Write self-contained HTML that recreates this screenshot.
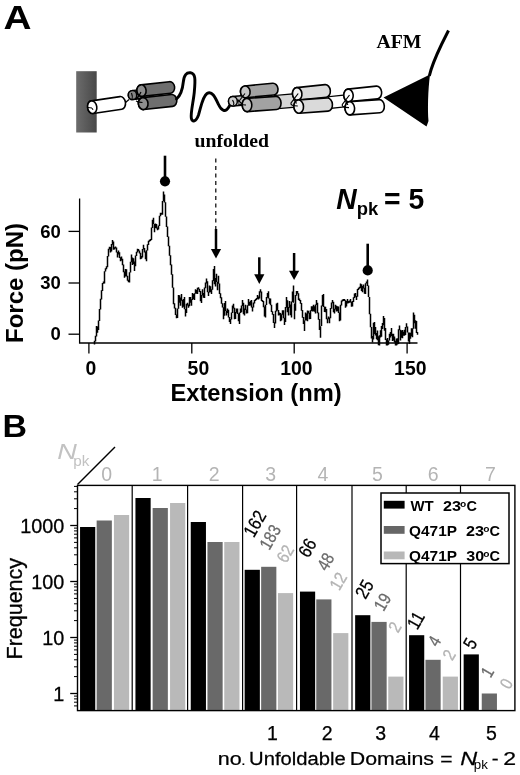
<!DOCTYPE html>
<html lang="en"><head><meta charset="utf-8"><title>Figure</title>
<style>html,body{margin:0;padding:0;background:#fff}svg{display:block}</style></head>
<body>
<svg width="520" height="775" viewBox="0 0 520 775">
<defs><linearGradient id="wall" x1="0" y1="0" x2="1" y2="0"><stop offset="0" stop-color="#6c6c6c"/><stop offset="1" stop-color="#484848"/></linearGradient></defs>
<rect x="0" y="0" width="520" height="775" fill="#fff"/>
<text x="3.6" y="29" font-family='"Liberation Sans", sans-serif' font-weight="bold" font-size="33" textLength="28" lengthAdjust="spacingAndGlyphs">A</text>
<text x="2.5" y="437" font-family='"Liberation Sans", sans-serif' font-weight="bold" font-size="32" textLength="24.5" lengthAdjust="spacingAndGlyphs">B</text>
<g id="diagram">
<rect x="76.2" y="71.2" width="20.5" height="61.3" fill="url(#wall)"/>
<g transform="translate(92.2,107.2) rotate(-8.5)"><path d="M0,-6.4 H29 A4.6,6.4 0 0 1 29,6.4 H0 A4.6,6.4 0 0 1 0,-6.4 Z" fill="#fff" stroke="#000" stroke-width="1.6"/><ellipse cx="0" cy="0" rx="4.6" ry="6.4" fill="#fff" stroke="#000" stroke-width="1.6"/></g>
<path d="M88,107.5 l4,0.5 l1,2" fill="none" stroke="#000" stroke-width="1"/>
<path d="M125.5,102.5 L129,99.5" fill="none" stroke="#000" stroke-width="1.3"/>
<g transform="translate(132.5,95.1) rotate(-6.3)"><path d="M0,-4.5 H7 A4.2,4.5 0 0 1 7,4.5 H0 A4.2,4.5 0 0 1 0,-4.5 Z" fill="#6e6e6e" stroke="#000" stroke-width="1.5"/><ellipse cx="0" cy="0" rx="4.2" ry="4.5" fill="#868686" stroke="#000" stroke-width="1.5"/></g>
<g transform="translate(141.5,90.6) rotate(-6.3)"><path d="M0,-5.8 H28.7 A4.6,5.8 0 0 1 28.7,5.8 H0 A4.6,5.8 0 0 1 0,-5.8 Z" fill="#6e6e6e" stroke="#000" stroke-width="1.6"/><ellipse cx="0" cy="0" rx="4.6" ry="5.8" fill="#8e8e8e" stroke="#000" stroke-width="1.6"/></g>
<g transform="translate(143.2,103.6) rotate(-6.3)"><path d="M0,-6.0 H29 A4.8,6.0 0 0 1 29,6.0 H0 A4.8,6.0 0 0 1 0,-6.0 Z" fill="#6e6e6e" stroke="#000" stroke-width="1.6"/><ellipse cx="0" cy="0" rx="4.8" ry="6.0" fill="#8e8e8e" stroke="#000" stroke-width="1.6"/></g>
<path d="M131.5,93 q1.5,4 0.5,6 M135.5,99.5 q3,-2 5.5,-7.5 M136,101 q3,1.5 6.5,1.5 M136.5,97 l3.5,3" fill="none" stroke="#000" stroke-width="1.1"/>
<path d="M176.5,99 C180.5,95.5 182.5,90 183.3,82 C184,75 186.5,72.3 190.5,72.8 C195.5,73.5 195.5,79 194.3,92 C193.5,101 190.5,113 191.3,118 C192,122.5 196,122 198.5,115 C201,107 202.5,96.5 207,93.5 C212,90.5 215,97 218.5,104.5 C221.5,111 225.5,112.5 228.5,107.5 C230,105 231,103 232.5,101.8" fill="none" stroke="#000" stroke-width="2.9" stroke-linecap="round"/>
<g transform="translate(232.9,101.2) rotate(-5)"><path d="M0,-4.8 H8.5 A4.4,4.8 0 0 1 8.5,4.8 H0 A4.4,4.8 0 0 1 0,-4.8 Z" fill="#bcbcbc" stroke="#000" stroke-width="1.5"/><ellipse cx="0" cy="0" rx="4.4" ry="4.8" fill="#cecece" stroke="#000" stroke-width="1.5"/></g>
<g transform="translate(275,102.2) rotate(-5)"><rect x="0" y="-6.7" width="23" height="13.4" fill="#d6d6d6" stroke="#000" stroke-width="1.3"/></g>
<g transform="translate(245.3,91.8) rotate(-5.5)"><path d="M0,-5.9 H28 A4.8,5.9 0 0 1 28,5.9 H0 A4.8,5.9 0 0 1 0,-5.9 Z" fill="#a2a2a2" stroke="#000" stroke-width="1.6"/><ellipse cx="0" cy="0" rx="4.8" ry="5.9" fill="#c6c6c6" stroke="#000" stroke-width="1.6"/></g>
<g transform="translate(247,105) rotate(-4)"><path d="M0,-6.6 H29.3 A4.8,6.6 0 0 1 29.3,6.6 H0 A4.8,6.6 0 0 1 0,-6.6 Z" fill="#a2a2a2" stroke="#000" stroke-width="1.6"/><ellipse cx="0" cy="0" rx="4.8" ry="6.6" fill="#c6c6c6" stroke="#000" stroke-width="1.6"/></g>
<path d="M232.5,100 q2,3 1,5 M238,102.5 q3,-4 7,-9 M238,104 q4,1 8,1 M237.5,99.5 l4.5,4.5" fill="none" stroke="#000" stroke-width="1.1"/>
<g transform="translate(329,102.6) rotate(-6)"><rect x="0" y="-5.9" width="21" height="11.8" fill="#fff" stroke="#000" stroke-width="1.3"/></g>
<g transform="translate(297.2,93.9) rotate(-6)"><path d="M0,-6.3 H28.6 A4.7,6.3 0 0 1 28.6,6.3 H0 A4.7,6.3 0 0 1 0,-6.3 Z" fill="#dadada" stroke="#000" stroke-width="1.6"/><ellipse cx="0" cy="0" rx="4.7" ry="6.3" fill="#f2f2f2" stroke="#000" stroke-width="1.6"/></g>
<g transform="translate(298.7,106.6) rotate(-4)"><path d="M0,-6.6 H29 A4.8,6.6 0 0 1 29,6.6 H0 A4.8,6.6 0 0 1 0,-6.6 Z" fill="#dadada" stroke="#000" stroke-width="1.6"/><ellipse cx="0" cy="0" rx="4.8" ry="6.6" fill="#f2f2f2" stroke="#000" stroke-width="1.6"/></g>
<path d="M298.2,93.5 L291,103 Q290,106 297.8,106 M293,99.5 q3,1.5 3.5,4" fill="none" stroke="#000" stroke-width="1.2"/>
<g transform="translate(348.5,95.4) rotate(-6)"><path d="M0,-6.3 H28.6 A4.7,6.3 0 0 1 28.6,6.3 H0 A4.7,6.3 0 0 1 0,-6.3 Z" fill="#fff" stroke="#000" stroke-width="1.6"/><ellipse cx="0" cy="0" rx="4.7" ry="6.3" fill="#fff" stroke="#000" stroke-width="1.6"/></g>
<g transform="translate(349.8,108.3) rotate(-4)"><path d="M0,-6.6 H29.8 A4.8,6.6 0 0 1 29.8,6.6 H0 A4.8,6.6 0 0 1 0,-6.6 Z" fill="#fff" stroke="#000" stroke-width="1.6"/><ellipse cx="0" cy="0" rx="4.8" ry="6.6" fill="#fff" stroke="#000" stroke-width="1.6"/></g>
<path d="M349.5,95 L342.3,104.5 Q341.3,107.5 349,107.6 M344.3,101 q3,1.5 3.5,4" fill="none" stroke="#000" stroke-width="1.2"/>
<path d="M383.5,97.5 L430,74.5 C428,90 427.5,110 428.5,121 L426.5,126.5 Z" fill="#000"/>
<path d="M429.3,76 C431.5,66 436,56 441.5,44.5 L448.5,30.5" fill="none" stroke="#000" stroke-width="3" stroke-linecap="butt"/>
<text x="376.5" y="47.5" font-family='"Liberation Serif", serif' font-weight="bold" font-size="19.5" textLength="45" lengthAdjust="spacingAndGlyphs">AFM</text>
<text x="194.5" y="147" font-family='"Liberation Serif", serif' font-weight="bold" font-size="19.5" textLength="74.5" lengthAdjust="spacingAndGlyphs">unfolded</text>
</g>
<g id="force">
<path d="M79.6,198.5 V343 H417.5" fill="none" stroke="#000" stroke-width="1.3"/>
<path d="M68.5,231.4 H79.6" stroke="#000" stroke-width="1.3"/>
<path d="M68.5,283 H79.6" stroke="#000" stroke-width="1.3"/>
<path d="M68.5,334.2 H79.6" stroke="#000" stroke-width="1.3"/>
<path d="M88.9,343 V353.5" stroke="#000" stroke-width="1.3"/>
<path d="M191.8,343 V353.5" stroke="#000" stroke-width="1.3"/>
<path d="M294.2,343 V353.5" stroke="#000" stroke-width="1.3"/>
<path d="M407.1,343 V353.5" stroke="#000" stroke-width="1.3"/>
<text x="60.8" y="237.5" text-anchor="end" font-family='"Liberation Sans", sans-serif' font-weight="bold" font-size="18.5">60</text>
<text x="60.8" y="289.1" text-anchor="end" font-family='"Liberation Sans", sans-serif' font-weight="bold" font-size="18.5">30</text>
<text x="60.8" y="340.3" text-anchor="end" font-family='"Liberation Sans", sans-serif' font-weight="bold" font-size="18.5">0</text>
<text x="90.8" y="374.8" text-anchor="middle" font-family='"Liberation Sans", sans-serif' font-weight="bold" font-size="19.4">0</text>
<text x="198.4" y="374.8" text-anchor="middle" font-family='"Liberation Sans", sans-serif' font-weight="bold" font-size="19.4">50</text>
<text x="296.4" y="374.8" text-anchor="middle" font-family='"Liberation Sans", sans-serif' font-weight="bold" font-size="19.4">100</text>
<text x="410.3" y="374.8" text-anchor="middle" font-family='"Liberation Sans", sans-serif' font-weight="bold" font-size="19.4">150</text>
<text x="0" y="0" transform="translate(22.6,343) rotate(-90)" font-family='"Liberation Sans", sans-serif' font-weight="bold" font-size="24">Force (pN)</text>
<text x="170.5" y="401.4" font-family='"Liberation Sans", sans-serif' font-weight="bold" font-size="23.7">Extension (nm)</text>
<path d="M94.5,340.7V344.4M95.5,335.7V341.4M96.5,326.0V336.4M97.5,326.4V332.8M98.5,320.4V330.0M99.5,309.1V321.1M100.5,298.8V309.4M101.5,290.3V299.4M102.5,283.0V290.9M103.5,281.6V283.8M104.5,271.3V283.5M105.5,268.3V271.6M106.5,266.3V269.2M107.5,256.1V267.2M108.5,248.7V256.6M109.5,246.7V249.4M110.5,246.9V252.6M111.5,243.9V251.5M112.5,240.0V244.7M113.5,241.4V249.7M114.5,247.3V249.4M115.5,246.5V248.5M116.5,247.6V252.6M117.5,251.9V257.4M118.5,250.6V254.5M119.5,252.2V257.9M120.5,257.2V261.3M121.5,256.4V260.5M122.5,258.8V265.3M123.5,264.6V272.2M124.5,271.6V277.7M125.5,269.0V276.5M126.5,269.3V276.5M127.5,275.7V280.7M128.5,279.8V282.3M129.5,272.2V282.5M130.5,261.8V272.5M131.5,254.5V262.3M132.5,257.5V265.1M133.5,258.3V264.1M134.5,261.5V270.9M135.5,255.4V266.3M136.5,251.7V255.9M137.5,248.7V252.5M138.5,249.1V251.3M139.5,250.4V253.5M140.5,252.7V259.3M141.5,256.1V258.8M142.5,249.0V257.4M143.5,244.8V249.4M144.5,248.0V252.4M145.5,251.5V259.3M146.5,250.2V261.3M147.5,244.3V250.6M148.5,240.7V245.1M149.5,239.7V241.7M150.5,239.0V241.0M151.5,227.5V240.1M152.5,219.8V227.9M153.5,217.7V224.1M154.5,223.9V232.3M155.5,223.5V228.1M156.5,224.1V228.4M157.5,227.6V230.3M158.5,225.4V229.6M159.5,215.7V225.9M160.5,212.8V216.2M161.5,212.7V214.7M162.5,201.1V214.8M163.5,191.6V201.3M164.5,194.4V202.4M165.5,202.2V216.8M166.5,216.4V227.1M167.5,226.6V237.0M168.5,236.5V246.3M169.5,245.8V255.7M170.5,255.2V265.2M171.5,264.6V274.8M172.5,274.3V287.7M173.5,287.6V304.2M174.5,303.3V308.5M175.5,307.8V315.1M176.5,314.4V318.3M177.5,308.4V317.9M178.5,295.1V308.8M179.5,295.3V302.7M180.5,297.5V305.8M181.5,294.1V300.7M182.5,300.1V307.7M183.5,298.9V306.7M184.5,297.0V309.3M185.5,309.0V316.4M186.5,303.7V312.9M187.5,302.8V305.4M188.5,304.6V307.7M189.5,297.0V306.2M190.5,297.1V302.8M191.5,299.3V305.8M192.5,293.1V299.9M193.5,293.9V299.0M194.5,293.2V299.9M195.5,289.3V293.8M196.5,290.0V293.8M197.5,287.7V294.1M198.5,287.3V289.5M199.5,288.7V291.9M200.5,291.0V301.3M201.5,295.0V302.9M202.5,289.3V295.6M203.5,293.0V297.8M204.5,287.6V298.0M205.5,282.5V288.2M206.5,278.6V283.4M207.5,281.3V292.2M208.5,291.7V296.1M209.5,285.4V292.5M210.5,286.2V292.3M211.5,289.2V294.1M212.5,280.3V289.7M213.5,268.9V280.9M214.5,266.1V284.3M215.5,277.9V286.4M216.5,273.8V282.0M217.5,281.7V290.3M218.5,275.7V283.7M219.5,283.6V294.0M220.5,293.3V298.2M221.5,297.3V303.8M222.5,303.2V307.5M223.5,307.3V319.3M224.5,303.1V315.8M225.5,300.9V311.0M226.5,310.7V315.4M227.5,308.6V313.1M228.5,309.8V317.5M229.5,316.9V321.9M230.5,319.1V324.1M231.5,312.5V319.6M232.5,305.5V313.1M233.5,303.8V308.4M234.5,307.7V319.3M235.5,312.1V319.1M236.5,308.6V312.7M237.5,308.6V314.1M238.5,313.4V321.3M239.5,312.6V324.1M240.5,308.6V313.0M241.5,305.6V312.3M242.5,299.9V306.0M243.5,302.8V314.3M244.5,308.4V315.4M245.5,304.8V309.9M246.5,309.4V313.5M247.5,305.3V313.2M248.5,298.9V305.7M249.5,302.0V305.8M250.5,300.8V305.6M251.5,299.9V307.6M252.5,306.8V311.6M253.5,302.5V307.6M254.5,300.0V303.4M255.5,298.9V300.9M256.5,298.1V300.1M257.5,295.1V298.9M258.5,296.5V299.4M259.5,291.3V298.4M260.5,289.3V292.4M261.5,291.6V300.9M262.5,299.9V301.9M263.5,301.0V307.2M264.5,306.5V316.4M265.5,304.7V317.4M266.5,296.9V305.0M267.5,292.9V297.7M268.5,291.2V298.5M269.5,298.3V303.8M270.5,298.6V305.3M271.5,304.7V312.1M272.5,311.2V314.7M273.5,313.9V322.9M274.5,322.3V328.0M275.5,310.8V323.6M276.5,303.6V311.6M277.5,302.8V310.5M278.5,309.9V315.4M279.5,312.5V315.2M280.5,312.9V321.2M281.5,314.2V320.5M282.5,310.3V314.8M283.5,310.2V318.2M284.5,317.8V325.1M285.5,307.0V322.0M286.5,297.0V307.7M287.5,300.2V312.3M288.5,307.1V315.4M289.5,300.9V307.7M290.5,304.5V315.3M291.5,301.6V317.4M292.5,291.6V301.9M293.5,285.4V302.8M294.5,303.5V319.3M295.5,295.1V310.8M296.5,290.9V295.8M297.5,291.0V293.8M298.5,293.2V299.9M299.5,298.4V301.0M300.5,300.1V303.7M301.5,302.9V310.7M302.5,310.0V317.7M303.5,317.1V324.1M304.5,320.5V330.9M305.5,312.5V320.5M306.5,313.5V320.4M307.5,310.6V321.2M308.5,310.7V313.4M309.5,312.7V319.3M310.5,310.3V318.9M311.5,306.3V311.0M312.5,306.2V311.6M313.5,304.8V311.3M314.5,306.2V311.8M315.5,304.4V313.5M316.5,299.9V305.1M317.5,302.8V313.3M318.5,312.6V319.8M319.5,319.1V330.0M320.5,326.3V337.7M321.5,305.5V326.0M322.5,295.0V305.9M323.5,294.1V307.0M324.5,306.5V312.1M325.5,306.7V312.2M326.5,309.1V319.2M327.5,318.5V323.2M328.5,316.4V319.2M329.5,317.5V323.2M330.5,308.1V318.3M331.5,302.5V308.8M332.5,299.9V303.3M333.5,301.7V312.2M334.5,308.8V313.5M335.5,304.8V309.4M336.5,305.7V311.6M337.5,306.2V311.3M338.5,306.4V312.9M339.5,312.5V321.2M340.5,304.8V320.4M341.5,300.4V305.6M342.5,299.6V301.6M343.5,299.0V301.0M344.5,298.9V301.1M345.5,300.2V307.7M346.5,300.9V306.5M347.5,298.9V303.4M348.5,300.9V303.3M349.5,300.6V302.8M350.5,298.9V302.4M351.5,301.7V306.7M352.5,301.1V306.4M353.5,297.3V302.0M354.5,293.4V298.1M355.5,293.1V296.8M356.5,296.0V299.9M357.5,289.1V296.7M358.5,287.8V290.1M359.5,286.8V288.8M360.5,283.5V287.9M361.5,284.2V290.9M362.5,286.1V292.2M363.5,284.4V288.4M364.5,287.8V293.7M365.5,283.2V294.1M366.5,281.5V283.5M367.5,279.6V285.9M368.5,285.5V297.0M369.5,296.9V314.2M370.5,313.8V327.2M371.5,327.0V338.6M372.5,335.9V342.5M373.5,322.8V339.4M374.5,322.1V334.0M375.5,327.0V335.5M376.5,332.9V339.3M377.5,330.6V340.2M378.5,336.3V345.2M379.5,335.3V345.4M380.5,330.3V337.6M381.5,326.1V336.7M382.5,322.9V329.0M383.5,316.0V325.3M384.5,318.1V330.8M385.5,328.0V339.9M386.5,339.3V345.5M387.5,337.9V345.4M388.5,340.6V344.8M389.5,333.8V340.5M390.5,332.0V337.4M391.5,328.0V336.1M392.5,333.8V341.0M393.5,333.7V340.6M394.5,336.6V342.5M395.5,340.8V345.5M396.5,338.5V345.4M397.5,338.3V344.4M398.5,329.2V344.1M399.5,325.5V330.3M400.5,329.7V340.6M401.5,330.6V337.8M402.5,329.9V338.2M403.5,331.8V335.7M404.5,329.8V335.7M405.5,326.9V334.9M406.5,323.2V327.4M407.5,326.5V332.4M408.5,332.6V341.6M409.5,332.4V344.1M410.5,332.7V338.8M411.5,328.2V336.3M412.5,328.2V337.3M413.5,312.5V328.8M414.5,314.7V323.2M415.5,320.2V328.7M416.5,320.9V332.9M417.5,332.1V334.8" fill="none" stroke="#000" stroke-width="1.5" stroke-linecap="butt"/>
<path d="M165,155.7 V181.3" stroke="#000" stroke-width="2.6"/><circle cx="165" cy="181.3" r="5.1" fill="#000"/>
<path d="M367.7,243.7 V270.4" stroke="#000" stroke-width="2.6"/><circle cx="367.7" cy="270.4" r="5.1" fill="#000"/>
<path d="M215.8,158.5 V229" stroke="#000" stroke-width="1.2" stroke-dasharray="4,3.5"/>
<path d="M216,229 V251" stroke="#000" stroke-width="2.5"/><path d="M210.9,249 L221.1,249 L216,258.5 Z" fill="#000"/>
<path d="M259.3,257.3 V276.3" stroke="#000" stroke-width="2.5"/><path d="M254.20000000000002,274.3 L264.40000000000003,274.3 L259.3,284 Z" fill="#000"/>
<path d="M294.1,253 V272.8" stroke="#000" stroke-width="2.5"/><path d="M289.0,270.8 L299.20000000000005,270.8 L294.1,280.1 Z" fill="#000"/>
<text transform="translate(336.3,208.8) scale(0.97,1)" font-family='"Liberation Sans", sans-serif' font-weight="bold" font-size="29.2"><tspan font-style="italic">N</tspan><tspan font-size="19" dy="6.3">pk</tspan></text>
<text transform="translate(384,208.8) scale(0.97,1)" font-family='"Liberation Sans", sans-serif' font-weight="bold" font-size="29.2">= 5</text>
</g>
<g id="bars">
<rect x="80.05" y="527.0" width="15.2" height="183.6" fill="#000"/>
<rect x="96.65" y="520.5" width="15.2" height="190.1" fill="#696969"/>
<rect x="113.95" y="515.0" width="15.2" height="195.6" fill="#b9b9b9"/>
<rect x="135.45" y="498.0" width="15.2" height="212.6" fill="#000"/>
<rect x="152.65" y="508.0" width="15.2" height="202.6" fill="#696969"/>
<rect x="170.05" y="503.0" width="15.2" height="207.6" fill="#b9b9b9"/>
<rect x="190.75" y="522.0" width="15.2" height="188.6" fill="#000"/>
<rect x="207.45" y="542.0" width="15.2" height="168.6" fill="#696969"/>
<rect x="224.25" y="542.0" width="15.2" height="168.6" fill="#b9b9b9"/>
<rect x="244.65" y="569.8" width="15.2" height="140.8" fill="#000"/>
<rect x="261.15" y="566.8" width="15.2" height="143.8" fill="#696969"/>
<rect x="277.95" y="593.1" width="15.2" height="117.5" fill="#b9b9b9"/>
<rect x="299.95" y="591.6" width="15.2" height="119.0" fill="#000"/>
<rect x="316.25" y="599.4" width="15.2" height="111.2" fill="#696969"/>
<rect x="333.15" y="633.1" width="15.2" height="77.5" fill="#b9b9b9"/>
<rect x="355.15" y="615.2" width="15.2" height="95.4" fill="#000"/>
<rect x="371.45" y="621.9" width="15.2" height="88.7" fill="#696969"/>
<rect x="388.25" y="676.6" width="15.2" height="34.0" fill="#b9b9b9"/>
<rect x="409.05" y="635.2" width="15.2" height="75.4" fill="#000"/>
<rect x="425.45" y="659.8" width="15.2" height="50.8" fill="#696969"/>
<rect x="442.75" y="676.6" width="15.2" height="34.0" fill="#b9b9b9"/>
<rect x="463.65" y="654.4" width="15.2" height="56.2" fill="#000"/>
<rect x="481.75" y="693.5" width="15.2" height="17.1" fill="#696969"/>
<path d="M132.2,485.4 V710.6" stroke="#000" stroke-width="1.2"/>
<path d="M187.6,485.4 V710.6" stroke="#000" stroke-width="1.2"/>
<path d="M242.6,485.4 V710.6" stroke="#000" stroke-width="1.2"/>
<path d="M296.6,485.4 V710.6" stroke="#000" stroke-width="1.2"/>
<path d="M352,485.4 V710.6" stroke="#000" stroke-width="1.2"/>
<path d="M406.2,485.4 V710.6" stroke="#000" stroke-width="1.2"/>
<path d="M460.5,485.4 V710.6" stroke="#000" stroke-width="1.2"/>
<rect x="77.5" y="485.4" width="437.4" height="225.20000000000005" fill="none" stroke="#000" stroke-width="1.4"/>
<path d="M70.2,693.5 H77.5" stroke="#000" stroke-width="1.3"/>
<path d="M70.2,637.5 H77.5" stroke="#000" stroke-width="1.3"/>
<path d="M70.2,581.5 H77.5" stroke="#000" stroke-width="1.3"/>
<path d="M70.2,525.5 H77.5" stroke="#000" stroke-width="1.3"/>
<path d="M74,705.9 H77.5" stroke="#000" stroke-width="1"/>
<path d="M74,702.2 H77.5" stroke="#000" stroke-width="1"/>
<path d="M74,698.9 H77.5" stroke="#000" stroke-width="1"/>
<path d="M74,696.1 H77.5" stroke="#000" stroke-width="1"/>
<path d="M74,676.6 H77.5" stroke="#000" stroke-width="1"/>
<path d="M74,666.8 H77.5" stroke="#000" stroke-width="1"/>
<path d="M74,659.8 H77.5" stroke="#000" stroke-width="1"/>
<path d="M74,654.4 H77.5" stroke="#000" stroke-width="1"/>
<path d="M74,649.9 H77.5" stroke="#000" stroke-width="1"/>
<path d="M74,646.2 H77.5" stroke="#000" stroke-width="1"/>
<path d="M74,642.9 H77.5" stroke="#000" stroke-width="1"/>
<path d="M74,640.1 H77.5" stroke="#000" stroke-width="1"/>
<path d="M74,620.6 H77.5" stroke="#000" stroke-width="1"/>
<path d="M74,610.8 H77.5" stroke="#000" stroke-width="1"/>
<path d="M74,603.8 H77.5" stroke="#000" stroke-width="1"/>
<path d="M74,598.4 H77.5" stroke="#000" stroke-width="1"/>
<path d="M74,593.9 H77.5" stroke="#000" stroke-width="1"/>
<path d="M74,590.2 H77.5" stroke="#000" stroke-width="1"/>
<path d="M74,586.9 H77.5" stroke="#000" stroke-width="1"/>
<path d="M74,584.1 H77.5" stroke="#000" stroke-width="1"/>
<path d="M74,564.6 H77.5" stroke="#000" stroke-width="1"/>
<path d="M74,554.8 H77.5" stroke="#000" stroke-width="1"/>
<path d="M74,547.8 H77.5" stroke="#000" stroke-width="1"/>
<path d="M74,542.4 H77.5" stroke="#000" stroke-width="1"/>
<path d="M74,537.9 H77.5" stroke="#000" stroke-width="1"/>
<path d="M74,534.2 H77.5" stroke="#000" stroke-width="1"/>
<path d="M74,530.9 H77.5" stroke="#000" stroke-width="1"/>
<path d="M74,528.1 H77.5" stroke="#000" stroke-width="1"/>
<path d="M74,508.6 H77.5" stroke="#000" stroke-width="1"/>
<path d="M74,498.8 H77.5" stroke="#000" stroke-width="1"/>
<path d="M74,491.8 H77.5" stroke="#000" stroke-width="1"/>
<path d="M74,486.4 H77.5" stroke="#000" stroke-width="1"/>
<text x="64.3" y="532.8" text-anchor="end" font-family='"Liberation Sans", sans-serif' font-size="19.8" stroke="#000" stroke-width="0.3">1000</text>
<text x="64.3" y="588.8" text-anchor="end" font-family='"Liberation Sans", sans-serif' font-size="19.8" stroke="#000" stroke-width="0.3">100</text>
<text x="64.3" y="644.8" text-anchor="end" font-family='"Liberation Sans", sans-serif' font-size="19.8" stroke="#000" stroke-width="0.3">10</text>
<text x="64.3" y="700.8" text-anchor="end" font-family='"Liberation Sans", sans-serif' font-size="19.8" stroke="#000" stroke-width="0.3">1</text>
<text transform="translate(22.3,659.5) rotate(-90)" font-family='"Liberation Sans", sans-serif' font-size="21.5" stroke="#000" stroke-width="0.3">Frequency</text>
<path d="M77.5,484.5 L115,447" stroke="#000" stroke-width="1.5"/>
<text x="57.3" y="458.6" font-family='"Liberation Sans", sans-serif' font-size="22.5" font-style="italic" fill="#c2c2c2" textLength="19.6" lengthAdjust="spacingAndGlyphs">N</text>
<text x="73.3" y="465.7" font-family='"Liberation Sans", sans-serif' font-size="15.3" fill="#c2c2c2">pk</text>
<text x="106.7" y="481.2" text-anchor="middle" font-family='"Liberation Sans", sans-serif' font-size="19.5" fill="#b4b4b4">0</text>
<text x="157.3" y="481.2" text-anchor="middle" font-family='"Liberation Sans", sans-serif' font-size="19.5" fill="#b4b4b4">1</text>
<text x="214.3" y="481.2" text-anchor="middle" font-family='"Liberation Sans", sans-serif' font-size="19.5" fill="#b4b4b4">2</text>
<text x="270.6" y="481.2" text-anchor="middle" font-family='"Liberation Sans", sans-serif' font-size="19.5" fill="#b4b4b4">3</text>
<text x="322.9" y="481.2" text-anchor="middle" font-family='"Liberation Sans", sans-serif' font-size="19.5" fill="#b4b4b4">4</text>
<text x="377.5" y="481.2" text-anchor="middle" font-family='"Liberation Sans", sans-serif' font-size="19.5" fill="#b4b4b4">5</text>
<text x="433.2" y="481.2" text-anchor="middle" font-family='"Liberation Sans", sans-serif' font-size="19.5" fill="#b4b4b4">6</text>
<text x="490.5" y="481.2" text-anchor="middle" font-family='"Liberation Sans", sans-serif' font-size="19.5" fill="#b4b4b4">7</text>
<text x="272.5" y="739.7" text-anchor="middle" font-family='"Liberation Sans", sans-serif' font-size="19.5" stroke="#000" stroke-width="0.25">1</text>
<text x="327.3" y="739.7" text-anchor="middle" font-family='"Liberation Sans", sans-serif' font-size="19.5" stroke="#000" stroke-width="0.25">2</text>
<text x="380.8" y="739.7" text-anchor="middle" font-family='"Liberation Sans", sans-serif' font-size="19.5" stroke="#000" stroke-width="0.25">3</text>
<text x="434.5" y="739.7" text-anchor="middle" font-family='"Liberation Sans", sans-serif' font-size="19.5" stroke="#000" stroke-width="0.25">4</text>
<text x="491.5" y="739.7" text-anchor="middle" font-family='"Liberation Sans", sans-serif' font-size="19.5" stroke="#000" stroke-width="0.25">5</text>
<text transform="translate(217.80,764.8) scale(1.1312,1)" font-family='"Liberation Sans", sans-serif' font-size="19" stroke="#000" stroke-width="0.25">no</text>
<text transform="translate(240.69,764.8) scale(1.2632,1)" font-family='"Liberation Sans", sans-serif' font-size="15">.</text>
<text transform="translate(249.08,764.8) scale(1.0639,1)" font-family='"Liberation Sans", sans-serif' font-size="19" stroke="#000" stroke-width="0.25">Unfoldable</text>
<text transform="translate(349.79,764.8) scale(1.1227,1)" font-family='"Liberation Sans", sans-serif' font-size="19" stroke="#000" stroke-width="0.25">Domains</text>
<text transform="translate(440.25,764.8) scale(1.1069,1)" font-family='"Liberation Sans", sans-serif' font-size="19" stroke="#000" stroke-width="0.25">=</text>
<text transform="translate(460.30,764.8) scale(1.2344,1)" font-family='"Liberation Sans", sans-serif' font-size="19" font-style="italic" stroke="#000" stroke-width="0.25">N</text>
<text transform="translate(473.73,769.3) scale(0.9732,1)" font-family='"Liberation Sans", sans-serif' font-size="13.7">pk</text>
<text transform="translate(491.68,764.8) scale(1.0741,1)" font-family='"Liberation Sans", sans-serif' font-size="19" stroke="#000" stroke-width="0.25">-</text>
<text transform="translate(503.35,764.8) scale(1.2146,1)" font-family='"Liberation Sans", sans-serif' font-size="19" stroke="#000" stroke-width="0.25">2</text>
<text transform="translate(254.5,523.5) rotate(-60) scale(0.94,1.1)" x="0" y="6.1" text-anchor="middle" font-family='"Liberation Sans", sans-serif' font-size="17" fill="#000" stroke="#000" stroke-width="0.25">162</text>
<text transform="translate(270,537) rotate(-60) scale(0.94,1.1)" x="0" y="5.7" text-anchor="middle" font-family='"Liberation Sans", sans-serif' font-size="16" fill="#6a6a6a" stroke="#6a6a6a" stroke-width="0.25">183</text>
<text transform="translate(285,553.5) rotate(-60) scale(0.94,1.1)" x="0" y="5.7" text-anchor="middle" font-family='"Liberation Sans", sans-serif' font-size="16" fill="#b4b4b4" stroke="#b4b4b4" stroke-width="0.25">62</text>
<text transform="translate(307,547.7) rotate(-60) scale(0.94,1.1)" x="0" y="6.1" text-anchor="middle" font-family='"Liberation Sans", sans-serif' font-size="17" fill="#000" stroke="#000" stroke-width="0.25">66</text>
<text transform="translate(325.4,561.5) rotate(-60) scale(0.94,1.1)" x="0" y="5.7" text-anchor="middle" font-family='"Liberation Sans", sans-serif' font-size="16" fill="#6a6a6a" stroke="#6a6a6a" stroke-width="0.25">48</text>
<text transform="translate(338,581) rotate(-60) scale(0.94,1.1)" x="0" y="5.7" text-anchor="middle" font-family='"Liberation Sans", sans-serif' font-size="16" fill="#b4b4b4" stroke="#b4b4b4" stroke-width="0.25">12</text>
<text transform="translate(364.2,589) rotate(-60) scale(0.94,1.1)" x="0" y="6.1" text-anchor="middle" font-family='"Liberation Sans", sans-serif' font-size="17" fill="#000" stroke="#000" stroke-width="0.25">25</text>
<text transform="translate(382.2,601.8) rotate(-60) scale(0.94,1.1)" x="0" y="5.7" text-anchor="middle" font-family='"Liberation Sans", sans-serif' font-size="16" fill="#6a6a6a" stroke="#6a6a6a" stroke-width="0.25">19</text>
<text transform="translate(394.7,627) rotate(-60) scale(0.94,1.1)" x="0" y="5.7" text-anchor="middle" font-family='"Liberation Sans", sans-serif' font-size="16" fill="#b4b4b4" stroke="#b4b4b4" stroke-width="0.25">2</text>
<text transform="translate(415.5,620.2) rotate(-60) scale(0.94,1.1)" x="0" y="6.1" text-anchor="middle" font-family='"Liberation Sans", sans-serif' font-size="17" fill="#000" stroke="#000" stroke-width="0.25">11</text>
<text transform="translate(434.1,641) rotate(-60) scale(0.94,1.1)" x="0" y="5.7" text-anchor="middle" font-family='"Liberation Sans", sans-serif' font-size="16" fill="#6a6a6a" stroke="#6a6a6a" stroke-width="0.25">4</text>
<text transform="translate(449,654.8) rotate(-60) scale(0.94,1.1)" x="0" y="5.7" text-anchor="middle" font-family='"Liberation Sans", sans-serif' font-size="16" fill="#b4b4b4" stroke="#b4b4b4" stroke-width="0.25">2</text>
<text transform="translate(469.8,643.4) rotate(-60) scale(0.94,1.1)" x="0" y="6.1" text-anchor="middle" font-family='"Liberation Sans", sans-serif' font-size="17" fill="#000" stroke="#000" stroke-width="0.25">5</text>
<text transform="translate(487.1,672.1) rotate(-60) scale(0.94,1.1)" x="0" y="5.7" text-anchor="middle" font-family='"Liberation Sans", sans-serif' font-size="16" fill="#6a6a6a" stroke="#6a6a6a" stroke-width="0.25">1</text>
<text transform="translate(506.1,683.5) rotate(-60) scale(0.94,1.1)" x="0" y="5.7" text-anchor="middle" font-family='"Liberation Sans", sans-serif' font-size="16" fill="#b4b4b4" stroke="#b4b4b4" stroke-width="0.25">0</text>
<rect x="381" y="493" width="128" height="70.6" fill="#fff" stroke="#000" stroke-width="1.5"/>
<rect x="383.8" y="500.8" width="20.8" height="7.8" fill="#000"/>
<text transform="translate(410.40,511.3) scale(0.9968,1)" font-family='"Liberation Sans", sans-serif' font-size="15" font-weight="bold">WT</text>
<text transform="translate(442.93,511.3) scale(1.0769,1)" font-family='"Liberation Sans", sans-serif' font-size="15" font-weight="bold">23</text>
<text transform="translate(460.09,507.3) scale(1.1578,1)" font-family='"Liberation Sans", sans-serif' font-size="8.8" font-weight="bold">o</text>
<text transform="translate(466.42,511.3) scale(0.9669,1)" font-family='"Liberation Sans", sans-serif' font-size="15" font-weight="bold">C</text>
<rect x="383.8" y="526" width="20.8" height="7.8" fill="#666"/>
<text transform="translate(409.08,536.4) scale(1.0263,1)" font-family='"Liberation Sans", sans-serif' font-size="15" font-weight="bold">Q471P</text>
<text transform="translate(466.03,536.4) scale(1.0769,1)" font-family='"Liberation Sans", sans-serif' font-size="15" font-weight="bold">23</text>
<text transform="translate(483.19,532.4) scale(1.1578,1)" font-family='"Liberation Sans", sans-serif' font-size="8.8" font-weight="bold">o</text>
<text transform="translate(489.52,536.4) scale(0.9669,1)" font-family='"Liberation Sans", sans-serif' font-size="15" font-weight="bold">C</text>
<rect x="383.8" y="551.5" width="20.8" height="7.8" fill="#b8b8b8"/>
<text transform="translate(409.08,561.2) scale(1.0263,1)" font-family='"Liberation Sans", sans-serif' font-size="15" font-weight="bold">Q471P</text>
<text transform="translate(466.20,561.2) scale(1.0718,1)" font-family='"Liberation Sans", sans-serif' font-size="15" font-weight="bold">30</text>
<text transform="translate(483.19,557.2) scale(1.1578,1)" font-family='"Liberation Sans", sans-serif' font-size="8.8" font-weight="bold">o</text>
<text transform="translate(489.52,561.2) scale(0.9669,1)" font-family='"Liberation Sans", sans-serif' font-size="15" font-weight="bold">C</text>
</g>
</svg>
</body></html>
